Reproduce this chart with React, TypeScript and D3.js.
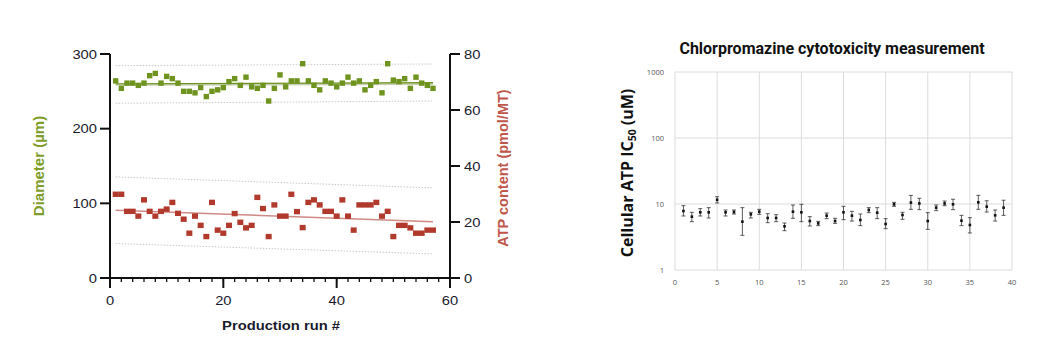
import React from "react";
import * as d3 from "d3";

// ---------- Left chart data ----------
const runs = d3.range(1, 58); // production run numbers 1..57
const diameter = [264, 254, 261, 261, 258, 261, 271, 274, 261, 270, 267, 261, 250, 250, 248, 255, 243, 250, 252, 255, 263, 267, 258, 269, 256, 254, 258, 237, 254, 272, 256, 264, 264, 287, 264, 258, 252, 264, 261, 256, 261, 269, 261, 264, 252, 258, 263, 248, 287, 265, 263, 267, 254, 269, 261, 258, 254];
const atp = [29.9, 29.9, 23.8, 23.8, 22.1, 27.9, 23.8, 22.1, 23.8, 24.6, 27.0, 23.1, 21.0, 16.0, 22.1, 18.8, 14.8, 27.0, 17.1, 16.0, 18.8, 23.0, 19.9, 17.9, 18.8, 28.8, 24.8, 14.8, 26.1, 22.1, 22.1, 29.9, 23.7, 18.0, 27.0, 27.9, 26.1, 23.8, 23.8, 22.1, 27.9, 22.1, 17.1, 26.1, 26.1, 26.1, 27.0, 22.1, 23.8, 14.8, 18.8, 18.8, 17.9, 16.0, 16.0, 17.1, 17.1];
// trend lines and limits: [value at first run, value at last run]
const diameterTrend = [260, 261.5];
const diameterMean = [258.5, 259.5];
const diameterUpper = [284.4, 286.6];
const diameterLower = [234, 237];
const atpTrend = [24.2, 20.1];
const atpUpper = [36.1, 32.2];
const atpLower = [12.3, 8.6];
const leftTicks = [0, 100, 200, 300];
const rightTicks = [0, 20, 40, 60, 80];
const xTicksMajor = [0, 20, 40, 60];
const xTicksMinor = d3.range(0, 61, 2);

// ---------- Right chart data ----------
const samples = d3.range(1, 40);
const ic50 = [7.83, 6.43, 7.48, 7.48, 11.6, 7.48, 7.56, 5.4, 6.97, 7.65, 6.14, 6.14, 4.59, 7.65, 7.48, 5.52, 5.09, 6.66, 5.52, 7.48, 6.66, 5.72, 8.11, 7.39, 4.98, 9.89, 6.81, 10.5, 10.2, 5.52, 8.8, 10.2, 9.89, 5.59, 4.81, 10.6, 9.12, 6.73, 8.8];
const ic50High = [9.43, 7.48, 8.5, 8.8, 12.9, 8.11, 8.11, 8.8, 7.48, 8.3, 7.13, 6.89, 5.15, 9.66, 9.89, 6.43, 5.46, 7.3, 6.07, 9.22, 7.74, 7.05, 8.8, 8.8, 6.0, 10.6, 7.48, 13.5, 12.2, 7.39, 9.66, 11.1, 11.8, 6.73, 6.21, 13.5, 11.2, 8.11, 11.4];
const ic50Low = [6.58, 5.4, 6.58, 6.14, 10.4, 6.58, 7.05, 3.35, 6.14, 6.97, 5.21, 5.4, 3.94, 6.07, 5.4, 4.64, 4.7, 6.0, 5.09, 5.79, 5.52, 4.7, 7.39, 6.0, 4.23, 9.22, 5.86, 8.3, 8.21, 4.13, 7.93, 9.43, 8.21, 4.7, 3.64, 8.3, 7.56, 5.52, 6.73];
const logTicks = [1, 10, 100, 1000];
const xTicks2 = [0, 5, 10, 15, 20, 25, 30, 35, 40];

const GREEN = "#6f931f";
const RED = "#b23a2c";
const ARIAL = "'Liberation Sans', Arial, sans-serif";

export default function App() {
  // left scales
  const x1 = d3.scaleLinear().domain([0, 60]).range([110, 450]);
  const yL = d3.scaleLinear().domain([0, 300]).range([278, 54]);
  const yR = d3.scaleLinear().domain([0, 80]).range([278, 54]);
  const first = runs[0];
  const last = runs[runs.length - 1];
  const seg = (vals: number[], y: d3.ScaleLinear<number, number>) =>
    d3.line<number>().x((_, i) => x1(i === 0 ? first : last)).y((v) => y(v))(vals) || "";

  // right scales
  const x2 = d3.scaleLinear().domain([0, 40]).range([675, 1012]);
  const y2 = d3.scaleLog().domain([1, 1000]).range([270, 72]);

  const hText = (x: number, y: number, s: string, anchor: string, extra: any = {}) => (
    <g transform={`translate(${x},${y}) scale(1.18,1)`}>
      <text textAnchor={anchor} fontFamily={ARIAL} fontSize={12.5} fill="#1a1a2e" {...extra}>{s}</text>
    </g>
  );

  return (
    <svg width={1055} height={354} style={{ position: "absolute", left: 0, top: 0, background: "#fff" }}>
      <rect width={1055} height={354} fill="#fff" />
      {/* ===== Left chart ===== */}
      {[diameterUpper, diameterLower].map((b, i) => (
        <path key={"dl" + i} d={seg(b, yL)} stroke="#c9c9c9" strokeWidth={1} strokeDasharray="1.5,1.5" fill="none" />
      ))}
      {[atpUpper, atpLower].map((b, i) => (
        <path key={"al" + i} d={seg(b, yR)} stroke="#c9c9c9" strokeWidth={1} strokeDasharray="1.5,1.5" fill="none" />
      ))}
      <path d={seg(diameterMean, yL)} stroke="#c8cfb8" strokeWidth={1.5} fill="none" />
      <path d={seg(diameterTrend, yL)} stroke={GREEN} strokeWidth={1.3} fill="none" />
      <path d={seg(atpTrend, yR)} stroke="#cf8a86" strokeWidth={1.5} fill="none" />
      {runs.map((r, i) => (
        <rect key={"g" + r} x={x1(r) - 2.7} y={yL(diameter[i]) - 2.7} width={5.4} height={5.4} fill={GREEN} />
      ))}
      {runs.map((r, i) => (
        <rect key={"r" + r} x={x1(r) - 3} y={yR(atp[i]) - 2.7} width={6} height={5.4} fill={RED} />
      ))}
      <line x1={110} x2={110} y1={yL(300)} y2={278} stroke="#111" strokeWidth={2} />
      <line x1={450} x2={450} y1={yR(80)} y2={278} stroke="#111" strokeWidth={2} />
      <line x1={100} x2={460} y1={278} y2={278} stroke="#111" strokeWidth={2} />
      {leftTicks.map((t) => (
        <g key={"lt" + t}>
          <line x1={100} x2={110} y1={yL(t)} y2={yL(t)} stroke="#111" strokeWidth={2} />
          {hText(97, yL(t) + 4.5, String(t), "end")}
        </g>
      ))}
      {rightTicks.map((t) => (
        <g key={"rt" + t}>
          <line x1={450} x2={460} y1={yR(t)} y2={yR(t)} stroke="#111" strokeWidth={2} />
          {hText(464, yR(t) + 4.5, String(t), "start")}
        </g>
      ))}
      {xTicksMinor.map((t) => (
        <line key={"xm" + t} x1={x1(t)} x2={x1(t)} y1={278} y2={282} stroke="#111" strokeWidth={1.3} />
      ))}
      {xTicksMajor.map((t) => (
        <g key={"xt" + t}>
          <line x1={x1(t)} x2={x1(t)} y1={278} y2={288} stroke="#111" strokeWidth={2} />
          {hText(x1(t), 305, String(t), "middle")}
        </g>
      ))}
      {hText(281, 330, "Production run #", "middle", { fontWeight: "bold", fontSize: 12.5 })}
      <text transform="translate(44,166) rotate(-90)" textAnchor="middle" fontFamily={ARIAL} fontWeight="bold" fontSize={15} fill="#7f9d2a">Diameter (µm)</text>
      <text transform="translate(508,168) rotate(-90)" textAnchor="middle" fontFamily={ARIAL} fontWeight="bold" fontSize={14.5} fill="#c0564a">ATP content (pmol/MT)</text>

      {/* ===== Right chart ===== */}
      <text x={832} y={54} textAnchor="middle" fontFamily="Roboto, sans-serif" fontWeight="bold" fontSize={16} fill="#111">Chlorpromazine cytotoxicity measurement</text>
      {xTicks2.map((t) => (
        <line key={"vg" + t} x1={x2(t)} x2={x2(t)} y1={y2(1000)} y2={y2(1)} stroke="#dcdcdc" strokeWidth={1} />
      ))}
      {logTicks.map((t) => (
        <line key={"hg" + t} x1={x2(0)} x2={x2(40)} y1={y2(t)} y2={y2(t)} stroke="#dcdcdc" strokeWidth={1} />
      ))}
      {logTicks.map((t) => (
        <text key={"yl" + t} x={664} y={y2(t) + 2.5} textAnchor="end" fontFamily="'Open Sans', sans-serif" fontSize={7.5} fill="#555">{t}</text>
      ))}
      {xTicks2.map((t) => (
        <text key={"xl" + t} x={x2(t)} y={285} textAnchor="middle" fontFamily="'Open Sans', sans-serif" fontSize={7.5} fill="#555">{t}</text>
      ))}
      {samples.map((s, i) => (
        <g key={"e" + s}>
          <line x1={x2(s)} x2={x2(s)} y1={y2(ic50High[i])} y2={y2(ic50Low[i])} stroke="#333" strokeWidth={0.8} />
          <line x1={x2(s) - 2} x2={x2(s) + 2} y1={y2(ic50High[i])} y2={y2(ic50High[i])} stroke="#333" strokeWidth={0.8} />
          <line x1={x2(s) - 2} x2={x2(s) + 2} y1={y2(ic50Low[i])} y2={y2(ic50Low[i])} stroke="#333" strokeWidth={0.8} />
          <rect x={x2(s) - 1.3} y={y2(ic50[i]) - 1.3} width={2.6} height={2.6} fill="#111" />
        </g>
      ))}
      <text transform="translate(633,173) rotate(-90)" textAnchor="middle" fontFamily="'Open Sans', sans-serif" fontWeight="bold" fontSize={16} fill="#111">
        Cellular ATP IC<tspan fontSize={10.5} dy={3}>50</tspan><tspan dy={-3}> (uM)</tspan>
      </text>
    </svg>
  );
}
